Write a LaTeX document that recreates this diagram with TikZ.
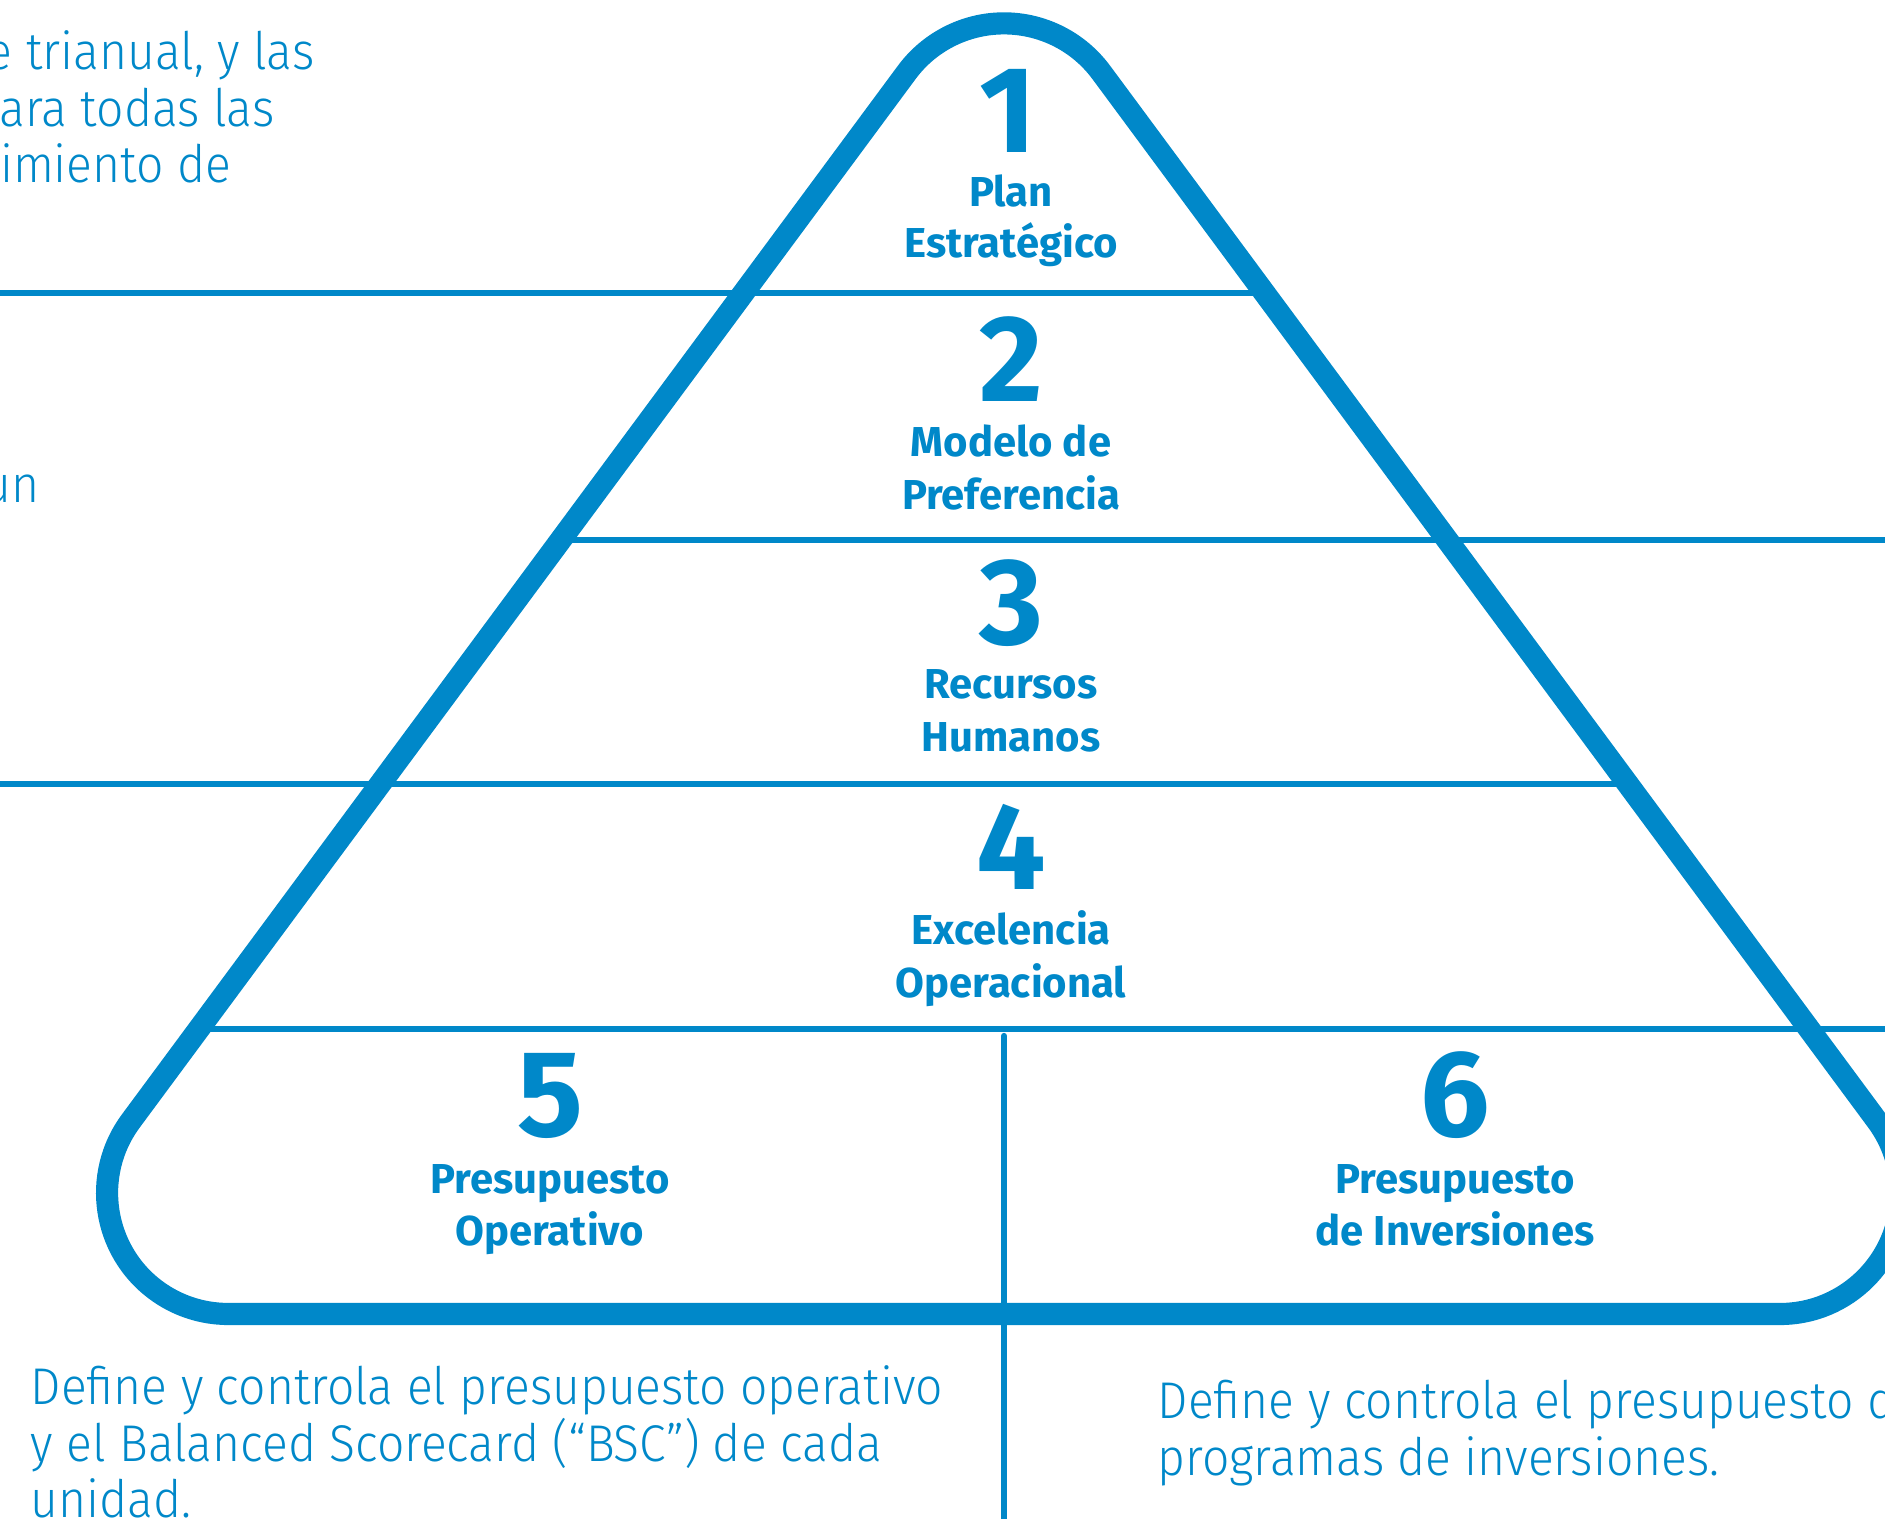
\documentclass[tikz,border=0pt]{standalone}
\usepackage{fontspec}
\setmainfont{Fira Sans}
\newfontfamily\lightfont{Fira Sans Light}[FakeStretch=0.93]

\definecolor{pyrblue}{RGB}{0,136,201}

\tikzset{every node/.style={inner sep=0pt,text=pyrblue},
  numtxt/.style={anchor=base,font=\fontsize{35}{35}\selectfont\bfseries},
  lbltxt/.style={anchor=base,font=\fontsize{11.9}{14}\selectfont\bfseries},
  desctxt/.style={font=\lightfont\fontsize{14.7}{16}\selectfont},
  divider/.style={draw=pyrblue,line width=1.8pt},
  outline/.style={draw=pyrblue,line width=6.3pt}}

\begin{document}
\begin{tikzpicture}
\useasboundingbox (0,0) rectangle (18.85,-15.19);
\clip (0,0) rectangle (18.85,-15.19);

% dividers between the levels
\coordinate (d1a) at (0,-2.93);
\coordinate (d1b) at (12.65,-2.93);
\coordinate (d2a) at (5.61,-5.40);
\coordinate (d2b) at (18.85,-5.40);
\coordinate (d3a) at (0,-7.84);
\coordinate (d3b) at (16.28,-7.84);
\coordinate (d4a) at (1.99,-10.29);
\coordinate (d4b) at (18.85,-10.29);
\coordinate (v1) at (10.04,-10.36);
\coordinate (v2) at (10.04,-15.40);
\path[divider] (d1a)--(d1b);
\path[divider] (d2a)--(d2b);
\path[divider] (d3a)--(d3b);
\path[divider] (d4a)--(d4b);
\path[divider,line cap=round] (v1)--(v2);

% rounded triangle
\path[outline] (2.281,-13.14) -- (17.799,-13.14)
  arc[start angle=-90,end angle=36.5,radius=1.21] -- (11.0125,-0.724)
  arc[start angle=36.5,end angle=143.5,radius=1.21] -- (1.308,-11.21)
  arc[start angle=143.5,end angle=270,radius=1.21] -- cycle;

% levels
\node[numtxt] (n1) at (10.08,-1.53) {1};
\node[lbltxt] (t1a) at (10.11,-2.07) {Plan};
\node[lbltxt] (t1b) at (10.11,-2.58) {Estratégico};
\node[numtxt] (n2) at (10.11,-4.02) {2};
\node[lbltxt] (t2a) at (10.11,-4.57) {Modelo de};
\node[lbltxt] (t2b) at (10.11,-5.10) {Preferencia};
\node[numtxt] (n3) at (10.11,-6.44) {3};
\node[lbltxt] (t3a) at (10.11,-6.99) {Recursos};
\node[lbltxt] (t3b) at (10.11,-7.52) {Humanos};
\node[numtxt] (n4) at (10.11,-8.89) {4};
\node[lbltxt] (t4a) at (10.11,-9.44) {Excelencia};
\node[lbltxt] (t4b) at (10.11,-9.97) {Operacional};
\node[numtxt] (n5) at (5.50,-11.36) {5};
\node[lbltxt] (t5a) at (5.50,-11.93) {Presupuesto};
\node[lbltxt] (t5b) at (5.50,-12.45) {Operativo};
\node[numtxt] (n6) at (14.55,-11.36) {6};
\node[lbltxt] (t6a) at (14.55,-11.93) {Presupuesto};
\node[lbltxt] (t6b) at (14.55,-12.45) {de Inversiones};

% descriptions
\node[desctxt,anchor=base east] (s1a) at (3.15,-0.70) {e trianual, y las};
\node[desctxt,anchor=base east] (s1b) at (2.75,-1.27) {ara todas las};
\node[desctxt,anchor=base east] (s1c) at (2.32,-1.83) {limiento de};
\node[desctxt,anchor=base east] (s3a) at (0.40,-5.03) {un};
\node[desctxt,anchor=base west] (s5a) at (0.30,-14.04) {Define y controla el presupuesto operativo};
\node[desctxt,anchor=base west] (s5b) at (0.30,-14.61) {y el Balanced Scorecard (“BSC”) de cada};
\node[desctxt,anchor=base west] (s5c) at (0.30,-15.17) {unidad.};
\node[desctxt,anchor=base west] (s6a) at (11.57,-14.18) {Define y controla el presupuesto de};
\node[desctxt,anchor=base west] (s6b) at (11.57,-14.75) {programas de inversiones.};
\end{tikzpicture}
\end{document}
